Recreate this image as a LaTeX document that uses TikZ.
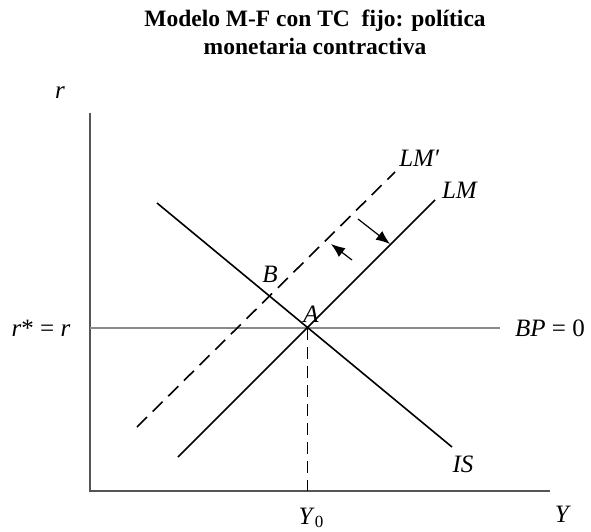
\documentclass[tikz,border=0pt]{standalone}
\usepackage{fontspec}
\setmainfont{Liberation Serif}
\usetikzlibrary{arrows.meta}

\definecolor{axiscolor}{HTML}{555555}
\definecolor{bpcolor}{HTML}{8A8A8A}

\begin{document}
\begin{tikzpicture}[x=1pt, y=-1pt,
		axis/.style={axiscolor, line width=1.5pt},
		bpline/.style={bpcolor, line width=1.5pt},
		curve/.style={black, line width=1.6pt},
		shifted/.style={black, line width=1.6pt, dash pattern=on 14pt off 8pt},
		guide/.style={black, line width=1pt, dash pattern=on 12pt off 7pt},
		shiftarrow/.style={-{Latex[length=14pt, width=11pt]}, black, line width=1.2pt},
		lbl/.style={font=\fontsize{25}{30}\selectfont, inner sep=0pt},
		title/.style={font=\fontsize{23.5}{28}\selectfont\bfseries, align=center}
		]
		\useasboundingbox (0,0) rectangle (591,532);
		
		% ejes
		\coordinate (O) at (90,491);
		\coordinate (rtop) at (90,113);
		\coordinate (Yend) at (550,491);
		
		% equilibrio y BP
		\coordinate (A) at (307,328);
		\coordinate (BPl) at (90,328);
		\coordinate (BPr) at (500,328);
		\coordinate (Y0) at (307,491);
		
		% curvas
		\coordinate (ISa) at (157,203);
		\coordinate (ISb) at (452,447);
		\coordinate (LMa) at (178,457);
		\coordinate (LMb) at (435,200);
		\coordinate (LMpa) at (137,427);
		\coordinate (LMpb) at (395,172);
		
		% flechas del desplazamiento
		\coordinate (F1a) at (358,219);
		\coordinate (F1b) at (390,244);
		\coordinate (F2a) at (352,260);
		\coordinate (F2b) at (331,244);
		
		% titulo
		\node[title] (tit) at (315,32) {Modelo M-F con TC\ \ fijo: política\\monetaria contractiva};
		
		% dibujar
		\draw[axis] (rtop) -- (O) -- (Yend);
		\draw[bpline] (BPl) -- (BPr);
		\draw[guide] (A) -- (Y0);
		\draw[curve] (ISa) -- (ISb);
		\draw[curve] (LMa) -- (LMb);
		\draw[shifted] (LMpa) -- (LMpb);
		\draw[shiftarrow] (F1a) -- (F1b);
		\draw[shiftarrow] (F2a) -- (F2b);
		
		% etiquetas
		\node[lbl] (rlab) at (60,93) {\textit{r}};
		\node[lbl] (Ylab) at (563,514) {\textit{Y}};
		\node[lbl] (rstar) at (41,328) {\textit{r}* = \textit{r}};
		\node[lbl] (bplab) at (550,328) {\textit{BP} = 0};
		\node[lbl] (Alab) at (311,314) {\textit{A}};
		\node[lbl] (Blab) at (270,274) {\textit{B}};
		\node[lbl] (LMlab) at (460,190) {\textit{LM}};
		\node[lbl] (LMplab) at (420,158) {\textit{LM}′};
		\node[lbl] (ISlab) at (463,464) {\textit{IS}};
		\node[lbl] (Y0lab) at (311,518) {\textit{Y}\raisebox{-0.3ex}{\fontsize{17}{17}\selectfont 0}};
		
	\end{tikzpicture}
\end{document}
